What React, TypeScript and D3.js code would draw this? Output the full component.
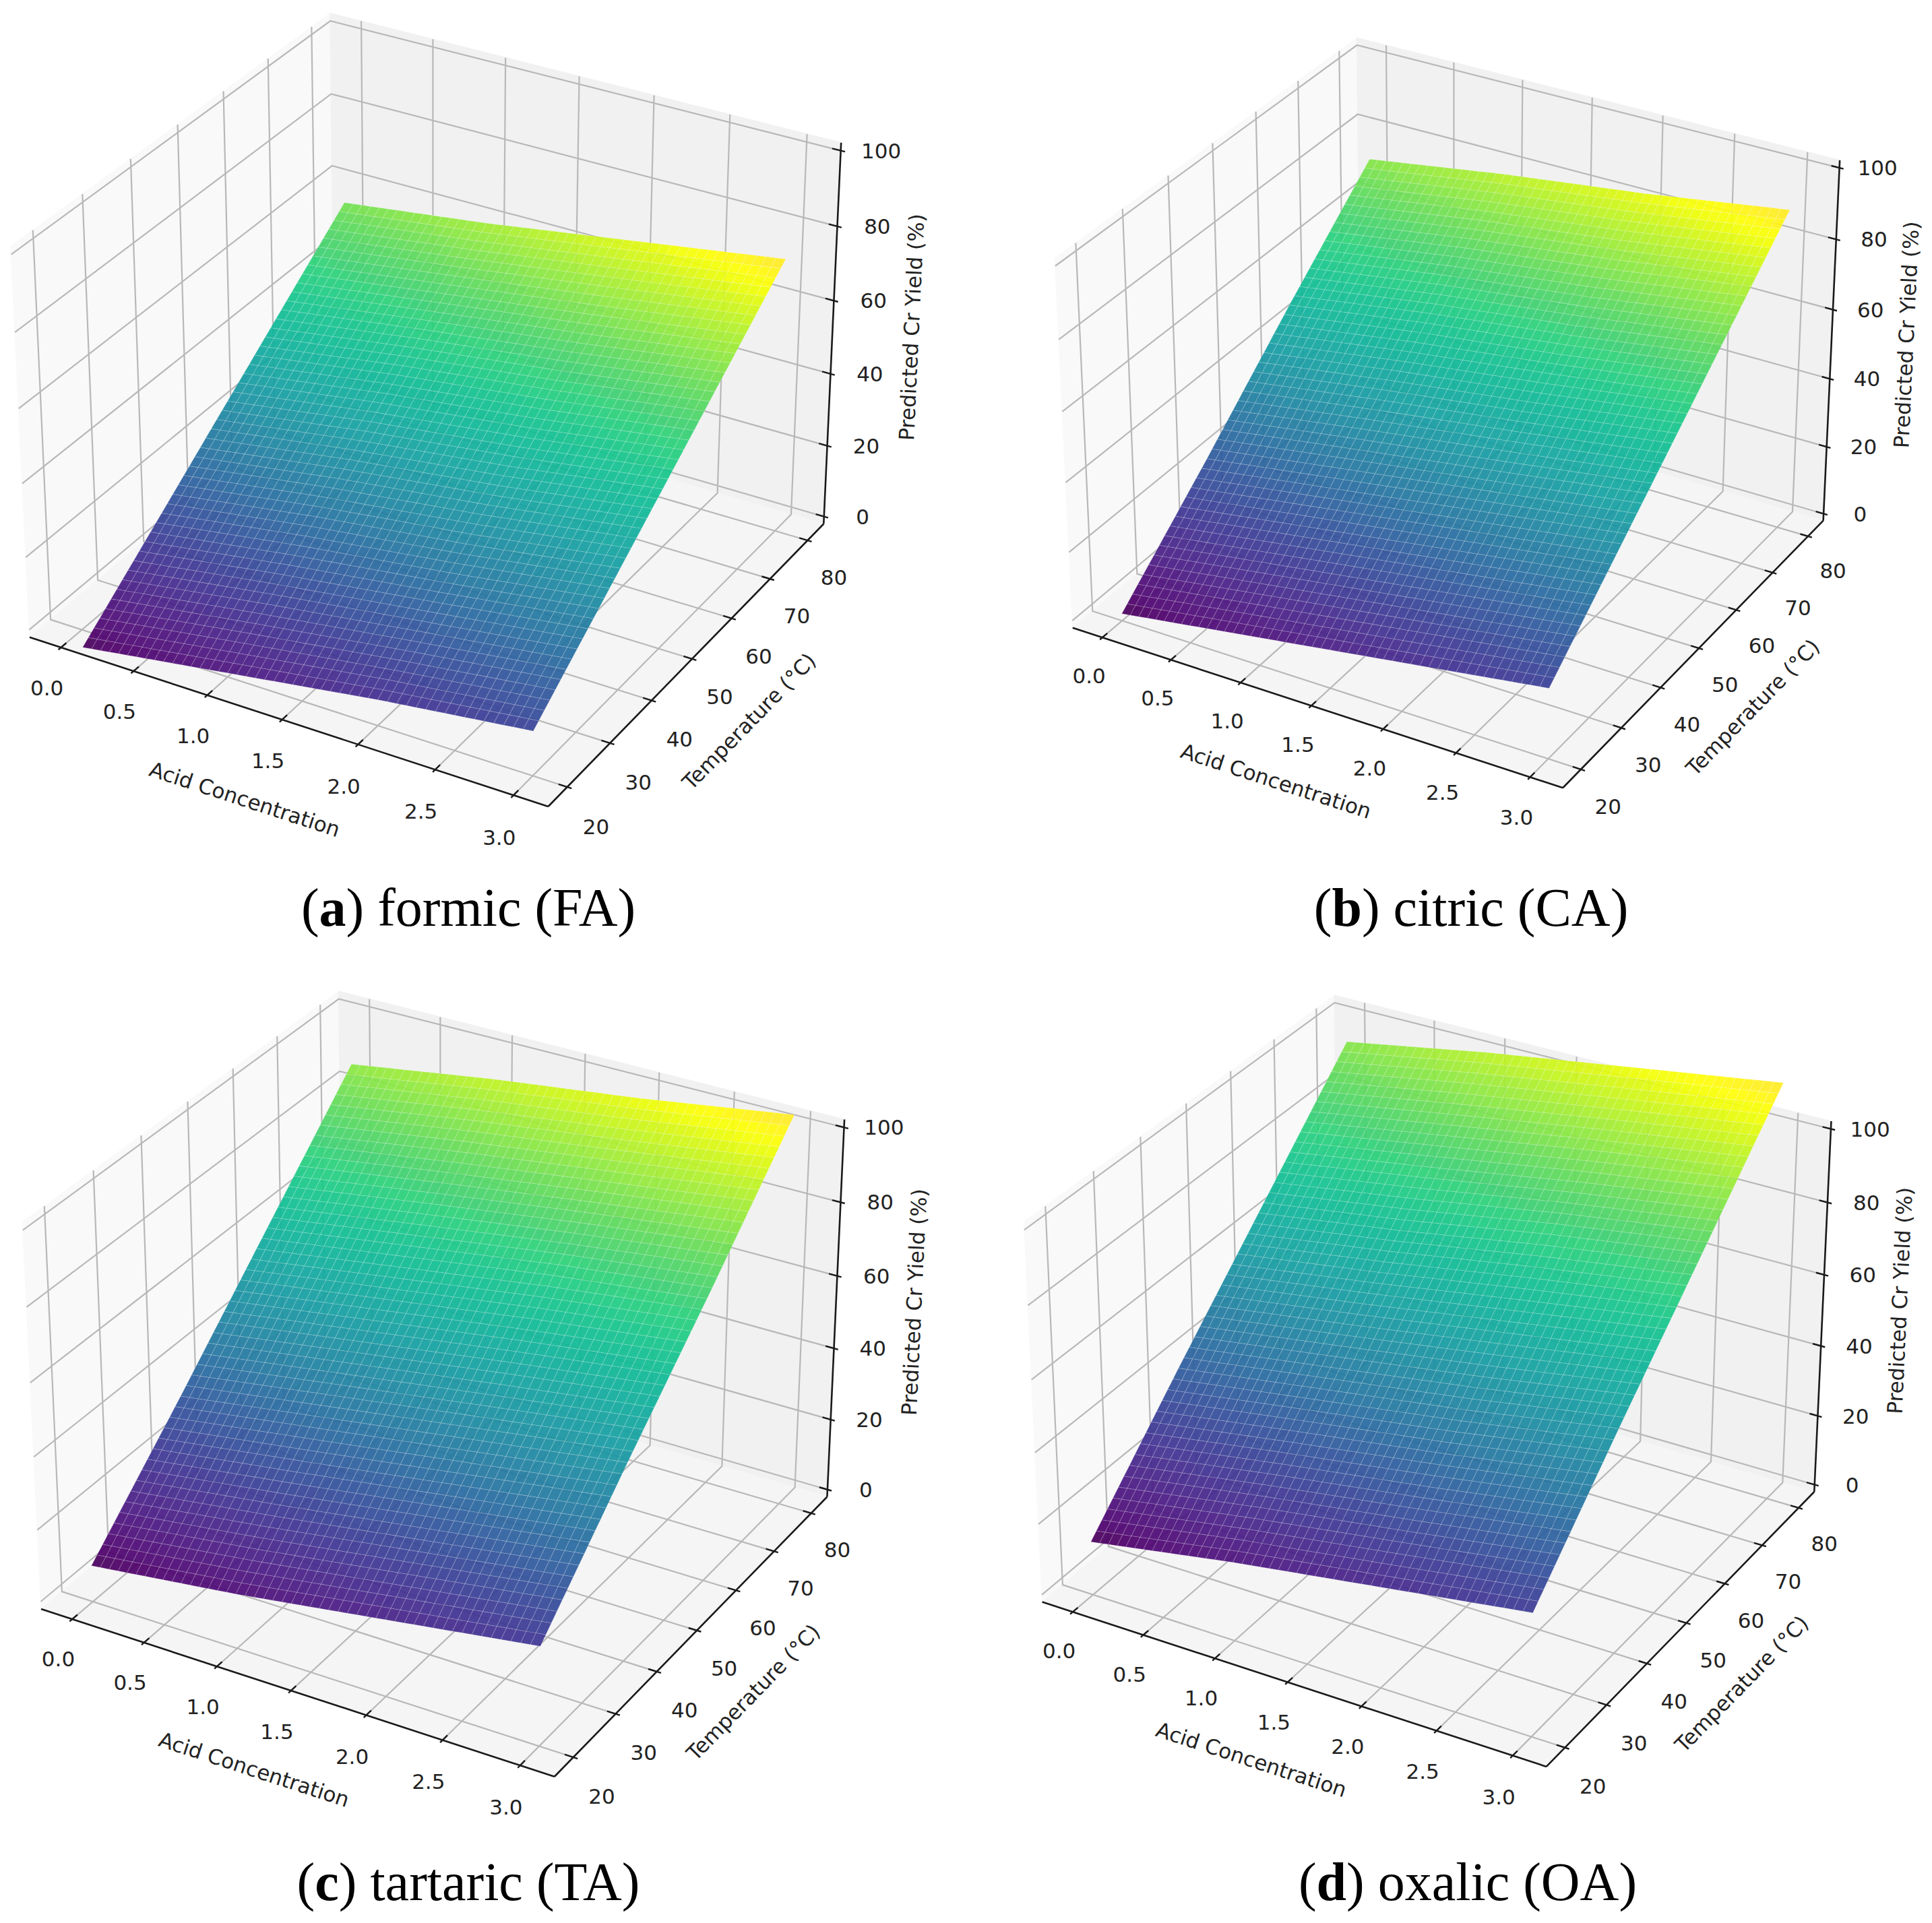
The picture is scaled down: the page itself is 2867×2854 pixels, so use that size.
import React from "react";
import * as d3 from "d3";

// grid (rows follow TEMP, columns follow ACID)
const ACID = [0, 1, 2, 3];
const TEMP = [20, 40, 60, 80];
const YIELD_FA = [
  [-7, -1, 5, 10],
  [14, 20, 25, 31],
  [35, 41, 46, 52],
  [56, 61, 67, 73],
];
const YIELD_CA = [
  [0, 6, 12, 18],
  [24, 30, 36, 42],
  [49, 55, 60, 66],
  [73, 79, 84, 90],
];
const YIELD_TA = [
  [8, 13, 19, 25],
  [34, 40, 46, 52],
  [61, 67, 73, 78],
  [88, 94, 99, 105],
];
const YIELD_OA = [
  [13, 20, 26, 32],
  [41, 47, 53, 60],
  [68, 74, 81, 87],
  [95, 102, 108, 114],
];

const ACID_TICKS = [0, 0.5, 1, 1.5, 2, 2.5, 3];
const TEMP_TICKS = [20, 30, 40, 50, 60, 70, 80];
const YIELD_TICKS = [0, 20, 40, 60, 80, 100];

const PANELS = [
  { letter: "a", name: "formic (FA)", grid: YIELD_FA },
  { letter: "b", name: "citric (CA)", grid: YIELD_CA },
  { letter: "c", name: "tartaric (TA)", grid: YIELD_TA },
  { letter: "d", name: "oxalic (OA)", grid: YIELD_OA },
];

const WIDTH = 2867;
const HEIGHT = 2854;
const LAYOUT = [
  { cx: 644, cy: 580, s: 7405, capX: 695, capY: 1374 },
  { cx: 2159, cy: 586, s: 7000, capX: 2183, capY: 1374 },
  { cx: 655, cy: 2026, s: 7330, capX: 695, capY: 2820 },
  { cx: 2130, cy: 2022, s: 7200, capX: 2178, capY: 2820 },
];

// matplotlib-like view
const ELEV = 30;
const AZIM = -60;
const DIST = 10;
const ASPECT = [4, 4, 3].map((a) => (a * 1.8294640721620434) / Math.hypot(4, 4, 3));
const XLIM = [-0.15, 3.15];
const YLIM = [17, 83];
const ZLIM = [0, 100];
const pad = (l: number[]) => [l[0] - (l[1] - l[0]) / 48, l[1] + (l[1] - l[0]) / 48];
const XB = pad(XLIM);
const YB = pad(YLIM);
const ZB = pad(ZLIM);

const SUB = 16;
const FONT = "DejaVu Sans";
const TICK_SIZE = 31;
const GRID_COLOR = "#b8b8b8";

const sx = d3.scaleLinear().domain(XLIM).range([-ASPECT[0] / 2, ASPECT[0] / 2]);
const sy = d3.scaleLinear().domain(YLIM).range([-ASPECT[1] / 2, ASPECT[1] / 2]);
const sz = d3.scaleLinear().domain(ZLIM).range([-ASPECT[2] / 2, ASPECT[2] / 2]);

const er = (ELEV * Math.PI) / 180;
const ar = (AZIM * Math.PI) / 180;
const W = [Math.cos(er) * Math.cos(ar), Math.cos(er) * Math.sin(ar), Math.sin(er)];
const un = Math.hypot(W[0], W[1]);
const U = [-W[1] / un, W[0] / un, 0];
const V = [
  W[1] * U[2] - W[2] * U[1],
  W[2] * U[0] - W[0] * U[2],
  W[0] * U[1] - W[1] * U[0],
];
const dot = (a: number[], b: number[]) => a[0] * b[0] + a[1] * b[1] + a[2] * b[2];

// the printed figure is a bit more vivid than plain viridis
const vivid = (t: number) => {
  const c = d3.hsl(d3.interpolateViridis(t));
  c.s = Math.min(1, c.s * 1.25);
  c.l = Math.min(0.95, c.l * 1.04);
  return c.formatHex();
};

function Panel({ panel, layout }: any) {
  const { cx, cy, s } = layout;
  const P = (x: number, y: number, z: number, off = [0, 0, 0]) => {
    const p = [sx(x) + off[0], sy(y) + off[1], sz(z) + off[2]];
    const k = s / (DIST - dot(W, p));
    return [cx + dot(U, p) * k, cy - dot(V, p) * k] as [number, number];
  };
  const line = d3.line();
  const [x0, x1] = XB;
  const [y0, y1] = YB;
  const [z0, z1] = ZB;

  const panes = [
    { pts: [P(x0, y0, z0), P(x0, y1, z0), P(x0, y1, z1), P(x0, y0, z1)], fill: "#f9f9f9" },
    { pts: [P(x0, y1, z0), P(x1, y1, z0), P(x1, y1, z1), P(x0, y1, z1)], fill: "#f1f1f1" },
    { pts: [P(x0, y0, z0), P(x1, y0, z0), P(x1, y1, z0), P(x0, y1, z0)], fill: "#f5f5f5" },
  ];

  const grid: [number, number][][] = [];
  ACID_TICKS.forEach((t) => grid.push([P(t, y0, z0), P(t, y1, z0), P(t, y1, z1)]));
  TEMP_TICKS.forEach((t) => grid.push([P(x1, t, z0), P(x0, t, z0), P(x0, t, z1)]));
  YIELD_TICKS.forEach((t) => grid.push([P(x0, y0, t), P(x0, y1, t), P(x1, y1, t)]));

  const dX = ASPECT[0] / 12;
  const dY = ASPECT[1] / 12;
  const tickLines: [number, number][][] = [];
  ACID_TICKS.forEach((t) => tickLines.push([P(t, y0, z0, [0, -0.1 * dY, 0]), P(t, y0, z0, [0, 0.2 * dY, 0])]));
  TEMP_TICKS.forEach((t) => tickLines.push([P(x1, t, z0, [0.1 * dX, 0, 0]), P(x1, t, z0, [-0.2 * dX, 0, 0])]));
  YIELD_TICKS.forEach((t) => tickLines.push([P(x1, y1, t, [0.1 * dX, 0, 0]), P(x1, y1, t, [-0.2 * dX, 0, 0])]));

  const axes = [
    [P(x0, y0, z0), P(x1, y0, z0)],
    [P(x1, y0, z0), P(x1, y1, z0)],
    [P(x1, y1, z0), P(x1, y1, z1)],
  ];

  const tickLabels = [
    ...ACID_TICKS.map((t) => ({ p: P(t, y0, z0, [0, -0.055, -0.065]), text: d3.format(".1f")(t) })),
    ...TEMP_TICKS.map((t) => ({ p: P(x1, t, z0, [0.064, 0, -0.07]), text: String(t) })),
    ...YIELD_TICKS.map((t) => ({ p: P(x1, y1, t, [0.07, 0.04, 0]), text: String(t) })),
  ];

  const angle = (a: [number, number], b: [number, number]) => {
    let deg = (Math.atan2(b[1] - a[1], b[0] - a[0]) * 180) / Math.PI;
    if (deg > 90) deg -= 180;
    if (deg < -90) deg += 180;
    return deg;
  };
  const axisLabels = [
    { p: P(1.5, y0, z0, [0, -0.142, -0.104]), rot: angle(axes[0][0], axes[0][1]), text: "Acid Concentration" },
    { p: P(x1, 50, z0, [0.131, 0, -0.106]), rot: angle(axes[1][0], axes[1][1]), text: "Temperature (°C)" },
    { p: P(x1, y1, 50, [0.122, 0.12, 0]), rot: angle(axes[2][0], axes[2][1]), text: "Predicted Cr Yield (%)" },
  ];

  // surface mesh
  const zs = panel.grid.flat();
  const norm = d3.scaleLinear().domain(d3.extent(zs) as [number, number]).range([0, 1]);
  const cells: { d: string; fill: string }[] = [];
  for (let j = 0; j < TEMP.length - 1; j++) {
    for (let i = 0; i < ACID.length - 1; i++) {
      const ax = d3.scaleLinear().domain([0, SUB]).range([ACID[i], ACID[i + 1]]);
      const at = d3.scaleLinear().domain([0, SUB]).range([TEMP[j], TEMP[j + 1]]);
      const g = panel.grid;
      const zAt = (a: number, b: number) => {
        const fa = a / SUB;
        const fb = b / SUB;
        const lo = g[j][i] * (1 - fa) + g[j][i + 1] * fa;
        const hi = g[j + 1][i] * (1 - fa) + g[j + 1][i + 1] * fa;
        return lo * (1 - fb) + hi * fb;
      };
      for (let b = 0; b < SUB; b++) {
        for (let a = 0; a < SUB; a++) {
          const corners = [
            [a, b],
            [a + 1, b],
            [a + 1, b + 1],
            [a, b + 1],
          ];
          const zc = corners.map(([m, n]) => zAt(m, n));
          const pts = corners.map(([m, n], k) => P(ax(m), at(n), zc[k]));
          cells.push({ d: line(pts) + "Z", fill: vivid(norm(d3.mean(zc) as number)) });
        }
      }
    }
  }

  return (
    <g>
      {panes.map((p, k) => (
        <path key={"pane" + k} d={line(p.pts) + "Z"} fill={p.fill} stroke={p.fill} strokeWidth={1.5} />
      ))}
      {grid.map((g, k) => (
        <path key={"grid" + k} d={line(g) as string} fill="none" stroke={GRID_COLOR} strokeWidth={2.2} />
      ))}
      {axes.map((a, k) => (
        <path key={"axis" + k} d={line(a) as string} stroke="#1a1a1a" strokeWidth={2.6} />
      ))}
      {tickLines.map((t, k) => (
        <path key={"tick" + k} d={line(t) as string} stroke="#1a1a1a" strokeWidth={2.4} />
      ))}
      {tickLabels.map((t, k) => (
        <text
          key={"tl" + k}
          x={t.p[0]}
          y={t.p[1]}
          textAnchor="middle"
          dominantBaseline="central"
          fontFamily={FONT}
          fontSize={TICK_SIZE}
          fill="#222"
        >
          {t.text}
        </text>
      ))}
      {axisLabels.map((t, k) => (
        <text
          key={"al" + k}
          transform={`translate(${t.p[0]},${t.p[1]}) rotate(${t.rot})`}
          textAnchor="middle"
          dominantBaseline="central"
          fontFamily={FONT}
          fontSize={TICK_SIZE}
          fill="#222"
        >
          {t.text}
        </text>
      ))}
      <g>
        {cells.map((c, k) => (
          <path key={"c" + k} d={c.d} fill={c.fill} fillOpacity={0.93} stroke="#ffffff" strokeOpacity={0.16} strokeWidth={1.1} />
        ))}
      </g>
      <text
        x={layout.capX}
        y={layout.capY}
        textAnchor="middle"
        fontFamily="Liberation Serif"
        fontSize={80}
        fill="#000"
      >
        {"("}
        <tspan fontWeight="bold">{panel.letter}</tspan>
        {") " + panel.name}
      </text>
    </g>
  );
}

function App() {
  return (
    <svg
      width={WIDTH}
      height={HEIGHT}
      viewBox={`0 0 ${WIDTH} ${HEIGHT}`}
      style={{ position: "absolute", left: 0, top: 0, background: "#fff" }}
    >
      <rect width={WIDTH} height={HEIGHT} fill="#fff" />
      {PANELS.map((p, i) => (
        <Panel key={p.letter} panel={p} layout={LAYOUT[i]} />
      ))}
    </svg>
  );
}

export default App;
